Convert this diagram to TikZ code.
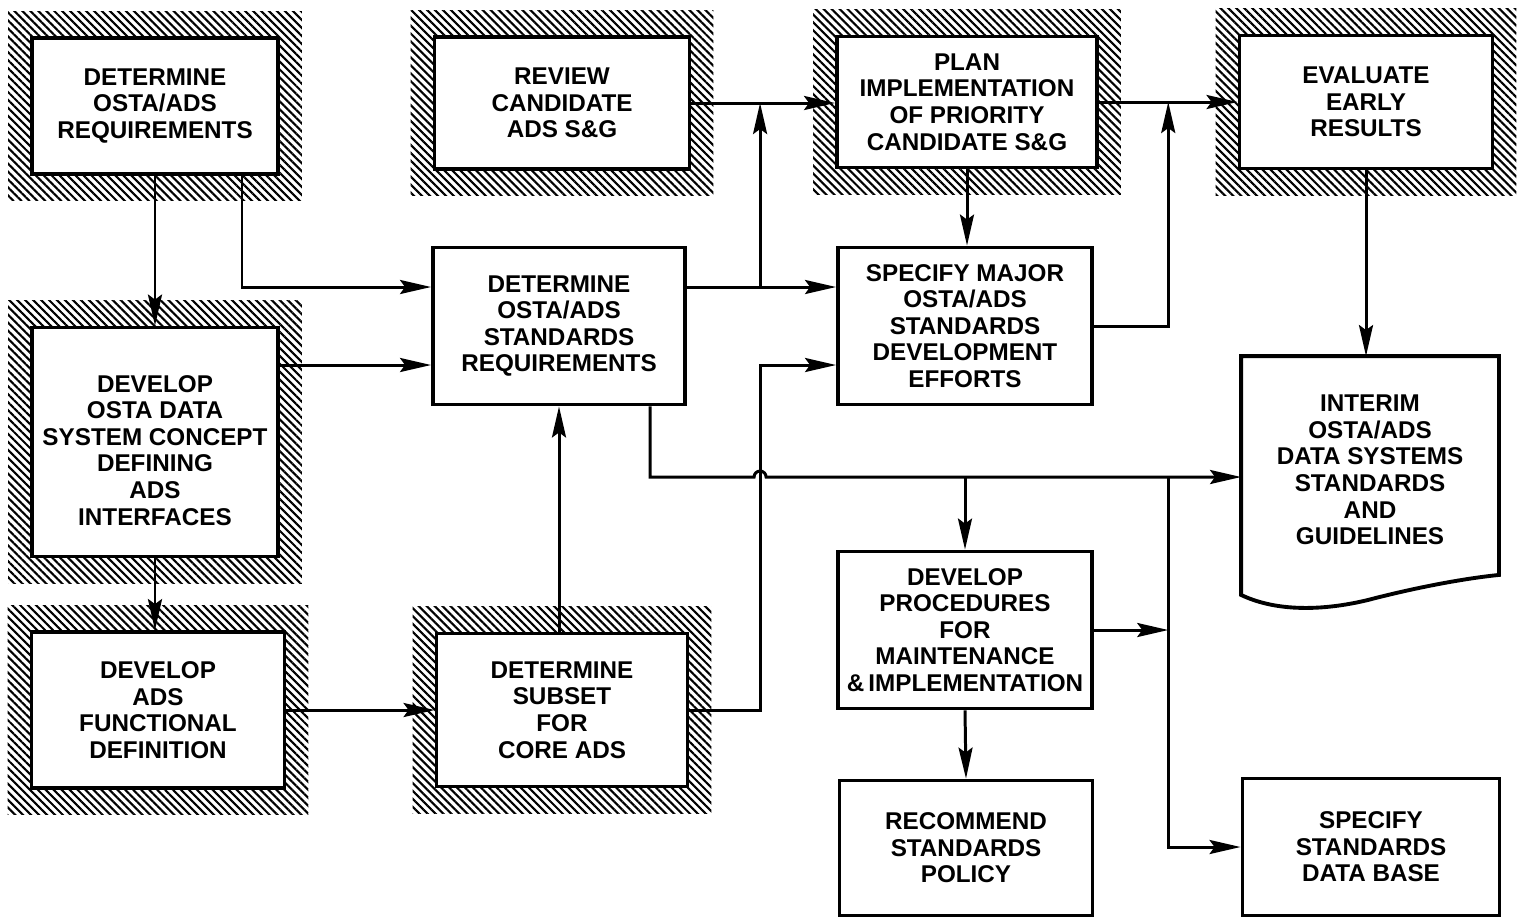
\documentclass[tikz,border=0pt]{standalone}
\usepackage{fontspec}
\setmainfont{Liberation Sans}
\usetikzlibrary{arrows.meta,calc,backgrounds,patterns.meta}

\begin{document}
\begin{tikzpicture}[x=0.1mm, y=-0.1mm, >={Stealth[length=3.1mm,width=1.4mm,inset=0.5mm]},
		box/.style={draw, line width=1.1pt, fill=white, align=center, inner sep=0pt, font=\fontsize{6.9}{7.57}\selectfont\bfseries},
		hatch/.style={pattern={Lines[angle=-45,distance=1.6pt,line width=0.6pt]}},
		link/.style={line width=0.85pt}]
	\useasboundingbox (0,0) rectangle (1517,919);
	\node[box, minimum width=24.6mm, minimum height=13.6mm] (req) at (155,106) {DETERMINE\\OSTA/ADS\\REQUIREMENTS};
	\node[box, minimum width=25.5mm, minimum height=13.2mm] (review) at (562,103) {REVIEW\\CANDIDATE\\ADS S\&G};
	\node[box, minimum width=26mm, minimum height=13.1mm] (plan) at (967,102) {PLAN\\IMPLEMENTATION\\OF PRIORITY\\CANDIDATE S\&G};
	\node[box, minimum width=25.3mm, minimum height=13.3mm] (evaluate) at (1366,102) {EVALUATE\\EARLY\\RESULTS};
	\node[box, minimum width=24.6mm, minimum height=22.9mm] (concept) at (155,442) {\rule{0pt}{9.5pt}DEVELOP\\OSTA DATA\\SYSTEM CONCEPT\\DEFINING\\ADS\\INTERFACES};
	\node[box, minimum width=25.3mm, minimum height=15.6mm] (functional) at (158,710) {DEVELOP\\ADS\\FUNCTIONAL\\DEFINITION};
	\node[box, minimum width=25.2mm, minimum height=15.7mm] (stdreq) at (559,326) {DETERMINE\\OSTA/ADS\\STANDARDS\\REQUIREMENTS};
	\node[box, minimum width=25.4mm, minimum height=15.7mm] (specify) at (965,326) {SPECIFY MAJOR\\OSTA/ADS\\STANDARDS\\DEVELOPMENT\\EFFORTS};
	\node[box, minimum width=25.1mm, minimum height=15.3mm] (subset) at (562,710) {DETERMINE\\SUBSET\\FOR\\CORE ADS};
	\node[box, minimum width=25.4mm, minimum height=15.7mm] (procedures) at (965,630) {DEVELOP\\PROCEDURES\\FOR\\MAINTENANCE\\\&\,IMPLEMENTATION};
	\node[box, minimum width=25.3mm, minimum height=13.5mm] (recommend) at (966,848) {RECOMMEND\\STANDARDS\\POLICY};
	\node[box, draw=none, fill=none, minimum width=25.4mm, minimum height=22.4mm] (interim) at (1370,470) {INTERIM\\OSTA/ADS\\DATA SYSTEMS\\STANDARDS\\AND\\GUIDELINES};
	\node[box, minimum width=25.7mm, minimum height=13.7mm] (database) at (1371,847) {SPECIFY\\STANDARDS\\DATA BASE};
	\draw[line width=1.1pt] ($(interim.south west)+(0,11)$) -- (interim.north west) -- (interim.north east) -- ($(interim.south east)+(0,-9)$)
		.. controls ($(interim.south east)+(-30,-6)$) and ($(interim.south east)+(-77,2)$) .. ($(interim.south west)+(127,16)$)
		.. controls ($(interim.south west)+(90,25)$) and ($(interim.south west)+(40,30)$) .. ($(interim.south west)+(0,11)$) -- cycle;
	\begin{scope}[on background layer]
		\fill[white] (0,0) rectangle (1517,919);
		\foreach \b in {req,review,plan,evaluate,concept,functional,subset}
			\fill[hatch] ($(\b.north west)+(-22,-25)$) rectangle ($(\b.south east)+(22,25)$);
	\end{scope}
	\coordinate (fork) at ($(specify.west)+(-76,-39)$);
	\coordinate (bus) at ($(interim.west)+(0,7)$);
	\coordinate (hop) at (fork |- bus);
	\coordinate (rail) at ($(plan.east)!0.5!(evaluate.west)$);
	\draw[link,->] (req.south) -- (concept.north);
	\draw[link,->] ($(req.south)+(87,0)$) |- ($(stdreq.west)+(0,-39)$);
	\draw[link,->] ($(concept.east)+(0,-77)$) -- ($(stdreq.west)+(0,39)$);
	\draw[link,->] (concept.south) -- (concept.south |- functional.north);
	\draw[link,->] (functional.east) -- (functional.east -| subset.west);
	\draw[link,->] (subset.north -| stdreq.south) -- (stdreq.south);
	\draw[link,->] (subset.east) -| ($(specify.west)+(-76,39)$) -- ($(specify.west)+(0,39)$);
	\draw[link,->] ($(stdreq.east)+(0,-39)$) -- ($(specify.west)+(0,-39)$);
	\draw[link,->] (fork) -- (fork |- review.east);
	\draw[link,->] (review.east) -- (review.east -| plan.west);
	\draw[link,->] (plan.south) -- (plan.south |- specify.north);
	\draw[link,->] (plan.east) -- (plan.east -| evaluate.west);
	\draw[link,->] (specify.east) -| (rail);
	\draw[link,->] (evaluate.south) -- (evaluate.south |- interim.north);
	\draw[link,->] ($(stdreq.south)+(91,0)$) |- ($(hop)+(-6,0)$) arc[start angle=180, end angle=0, radius=0.6mm] -- (bus);
	\draw[link,->] (procedures.north |- bus) -- (procedures.north);
	\draw[link,->] (rail |- bus) |- (database.west);
	\draw[link,->] (procedures.east) -- (procedures.east -| rail);
	\draw[link,->] (procedures.south) -- (recommend.north);
\end{tikzpicture}
\end{document}
